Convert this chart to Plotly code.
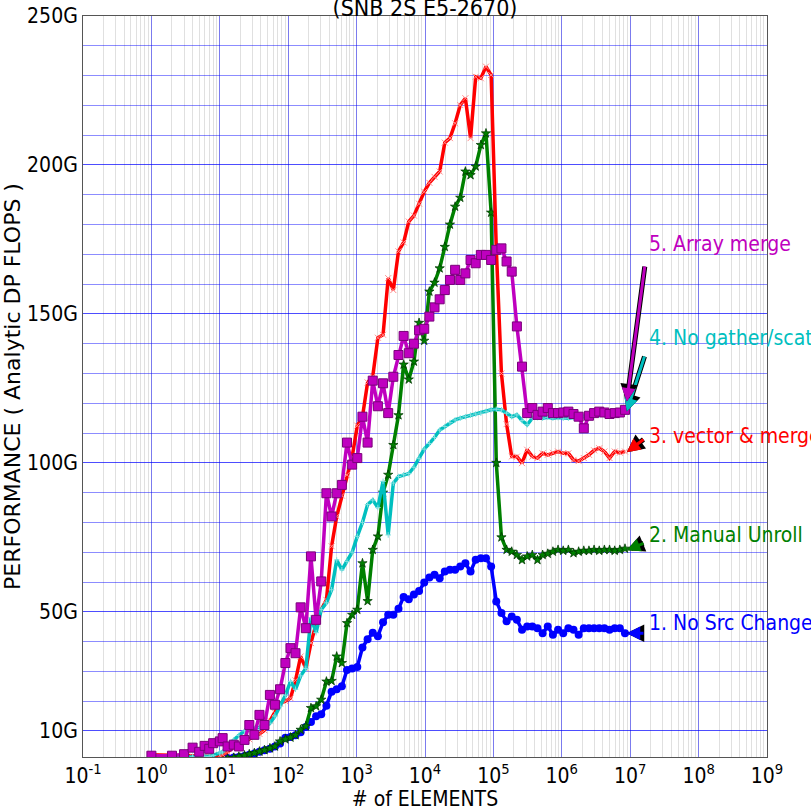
import plotly.graph_objects as go

# Problem size (# of elements), four samples per power of two
n_elements = [
    1, 2, 3, 4, 5, 6, 7, 8,
    10, 11, 13, 16, 19, 23, 27, 32,
    38, 45, 54, 64, 76, 91, 108, 128,
    152, 181, 215, 256, 304, 362, 431, 512,
    609, 724, 861, 1024, 1218, 1448, 1722, 2048,
    2436, 2896, 3444, 4096, 4871, 5793, 6889, 8192,
    9742, 11585, 13777, 16384, 19484, 23170, 27554, 32768,
    38968, 46341, 55109, 65536, 77936, 92682, 110218, 131072,
    155872, 185364, 220436, 262144, 311744, 370728, 440872, 524288,
    623487, 741455, 881744, 1048576, 1246974, 1482910, 1763488, 2097152,
    2493948, 2965821, 3526975, 4194304, 4987896, 5931642, 7053950, 8388608,
]

# Measured performance in GFLOPS for each code version
no_src_change = [
    0.3, 0.3, 0.4, 0.4, 0.5, 0.5, 0.6, 0.6,
    0.7, 0.8, 0.9, 1.1, 1.3, 1.6, 2.0, 2.4,
    3.0, 3.5, 4.0, 4.8, 5.8, 7.7, 8.0, 8.6,
    9.6, 11.3, 13.0, 14.9, 15.6, 18.5, 23.2, 24.0,
    25.0, 30.5, 31.0, 31.5, 38.0, 40.8, 43.0, 41.8,
    46.5, 49.0, 49.0, 51.0, 55.0, 54.2, 55.8, 57.0,
    59.8, 61.5, 62.4, 61.3, 63.5, 64.1, 64.1, 65.2,
    66.3, 63.5, 67.5, 68.0, 68.0, 65.2, 53.5, 49.6,
    46.8, 48.4, 47.3, 44.0, 45.1, 45.1, 44.5, 42.8,
    45.1, 42.3, 44.0, 42.8, 44.5, 44.0, 42.3, 44.5,
    44.5, 44.5, 44.5, 44.5, 44.0, 44.5, 44.5, 42.8,
]
manual_unroll = [
    0.3, 0.3, 0.3, 0.4, 0.4, 0.4, 0.5, 0.5,
    0.6, 0.7, 0.8, 1.0, 1.4, 1.8, 2.2, 2.6,
    3.1, 3.6, 4.2, 4.8, 6.5, 7.2, 7.8, 8.6,
    10.4, 11.6, 17.7, 18.3, 20.5, 26.6, 26.8, 35.0,
    32.8, 46.2, 49.0, 50.7, 66.3, 53.6, 70.8, 75.3,
    90.0, 96.0, 106.0, 116.0, 133.0, 128.0, 134.0, 147.0,
    141.0, 157.5, 160.5, 165.3, 172.5, 180.0, 186.0, 189.0,
    197.8, 196.6, 199.5, 206.7, 210.6, 184.0, 100.0, 75.0,
    70.8, 70.2, 69.1, 67.4, 68.6, 69.1, 67.4, 69.1,
    69.5, 70.2, 70.8, 70.5, 70.8, 69.7, 70.2, 70.5,
    70.5, 70.8, 70.5, 70.8, 70.8, 70.5, 70.8, 71.2,
]
vector_merge = [
    2.0, 1.8, 1.6, 1.5, 1.5, 1.6, 1.5, 1.8,
    1.7, 2.0, 3.0, 4.6, 4.8, 7.0, 7.2, 8.5,
    9.0, 10.2, 13.5, 16.0, 19.3, 20.0, 21.0, 27.0,
    35.0, 31.0, 39.5, 46.0, 50.7, 54.0, 72.0, 82.0,
    89.0, 96.0, 102.0, 112.5, 115.5, 127.0, 129.0, 142.0,
    143.0, 162.0, 158.0, 171.0, 174.0, 181.0, 183.0, 187.0,
    191.0, 194.0, 196.0, 197.8, 207.5, 209.0, 214.0, 220.1,
    222.4, 209.0, 229.6, 229.1, 233.0, 230.2, 172.0, 130.0,
    113.0, 102.1, 102.1, 99.9, 104.4, 102.1, 101.6, 103.2,
    102.7, 103.4, 103.8, 103.2, 103.2, 101.0, 100.6, 101.6,
    102.7, 104.2, 104.9, 103.8, 101.6, 103.8, 103.4, 103.8,
]
no_gather_scatter = [
    1.8, 1.5, 1.4, 1.3, 1.6, 1.5, 1.4, 1.8,
    2.6, 3.0, 4.6, 7.0, 8.5, 10.0, 10.6, 10.8,
    11.2, 11.5, 12.6, 15.0, 18.3, 22.0, 26.6, 24.0,
    28.5, 31.0, 48.0, 43.0, 50.7, 53.0, 57.4, 67.4,
    64.1, 66.9, 70.0, 75.3, 80.0, 86.0, 87.5, 85.0,
    93.8, 75.8, 93.2, 95.4, 96.0, 96.4, 98.5, 101.5,
    104.6, 106.5, 108.5, 111.0, 112.2, 113.5, 114.4, 115.0,
    115.5, 116.0, 116.4, 116.7, 117.3, 117.8, 118.0, 117.8,
    116.7, 115.5, 116.1, 114.2, 112.8, 115.0, 115.2, 115.0,
    115.3, 115.0, 115.2, 115.0, 115.0, 115.2, 115.5, 115.6,
    115.8, 116.1, 116.0, 116.1, 116.0, 116.1, 116.1, 117.0,
]
array_merge = [
    1.7, 1.7, 2.2, 4.4, 3.0, 5.0, 4.0, 5.9,
    6.5, 7.6, 4.8, 5.4, 4.8, 7.0, 12.0, 8.7,
    15.4, 12.0, 22.1, 18.8, 24.0, 32.8, 37.8, 36.1,
    51.5, 44.5, 68.6, 47.3, 60.2, 89.8, 82.0, 89.8,
    92.6, 106.8, 99.4, 101.6, 115.5, 106.8, 127.6, 119.0,
    126.7, 116.7, 128.9, 136.2, 142.6, 136.8, 140.0, 144.5,
    145.0, 149.1, 152.2, 154.9, 158.0, 161.4, 164.8, 161.4,
    163.6, 168.1, 167.0, 169.8, 169.8, 168.1, 171.5, 172.0,
    167.6, 164.2, 145.8, 132.3, 116.7, 118.4, 116.1, 117.2,
    118.4, 116.7, 116.7, 116.9, 117.2, 116.4, 115.5, 111.6,
    115.8, 116.7, 117.2, 116.9, 116.4, 116.7, 116.9, 117.8,
]

x_tick_vals = [0.1, 1, 10, 100, 1e3, 1e4, 1e5, 1e6, 1e7, 1e8, 1e9]
x_tick_text = ["10<sup>-1</sup>"] + [f"10<sup>{p}</sup>" for p in range(0, 10)]
y_tick_vals = [10, 50, 100, 150, 200, 250]
y_tick_text = ["10G", "50G", "100G", "150G", "200G", "250G"]

series_labels = [
    "1. No Src Change",
    "2. Manual Unroll",
    "3. vector & merge",
    "4. No gather/scatter",
    "5. Array merge",
]

FONT = "DejaVu Sans Condensed, DejaVu Sans, sans-serif"
FONT_WIDE = "DejaVu Sans, sans-serif"

series = [
    (no_src_change, "#0000ff",
     dict(symbol="circle", size=8, color="#0000ff", line=dict(width=0))),
    (manual_unroll, "#008000",
     dict(symbol="star", size=7, color="#008000", line=dict(width=0.7, color="#003300"))),
    (vector_merge, "#ff0000",
     dict(symbol="x-thin", size=6, line=dict(width=1, color="#ff8c8c"))),
    (no_gather_scatter, "#00bfbf",
     dict(symbol="cross-thin", size=4, line=dict(width=1, color="#7fdfdf"))),
    (array_merge, "#bf00bf",
     dict(symbol="square", size=9, color="#bf00bf", line=dict(width=1, color="#7a007a"))),
]

fig = go.Figure()
for (values, color, marker), label in zip(series, series_labels):
    fig.add_trace(go.Scatter(
        x=n_elements, y=values, name=label, mode="lines+markers",
        line=dict(color=color, width=3.5), marker=marker,
    ))

# Callout labels at the right end of each curve: (label y, arrow tail y, arrow tip y)
callouts = [
    (46.4, 42.8, 42.8),
    (75.8, 73.2, 70.7),
    (109.0, 108.2, 103.6),
    (141.8, 136.2, 117.2),
    (173.5, 166.4, 120.6),
]
tail_x, tip_x, text_x = 7.216, 6.95, 7.25
for (label_y, tail_y, tip_y), (_, color, _m), label in zip(callouts, series, series_labels):
    for width, size, col in ((5, 0.7, "#000000"), (3, 0.9, color)):
        fig.add_annotation(
            x=tip_x, y=tip_y, ax=tail_x, ay=tail_y, xref="x", yref="y",
            axref="x", ayref="y", text="", showarrow=True,
            arrowhead=2, arrowsize=size, arrowwidth=width, arrowcolor=col,
        )
    fig.add_annotation(
        x=text_x, y=label_y, xref="x", yref="y", text=label,
        showarrow=False, xanchor="left", yanchor="middle",
        font=dict(family=FONT, size=21, color=color),
    )

fig.update_layout(
    width=811, height=811,
    margin=dict(l=83, r=44, t=16, b=54),
    paper_bgcolor="white", plot_bgcolor="white",
    showlegend=False,
    font=dict(family=FONT, size=21, color="#000000"),
    title=dict(
        text="(SNB 2S E5-2670)", x=0.5, xref="paper", xanchor="center",
        y=0.9905, yref="container", yanchor="middle",
        font=dict(family=FONT, size=23, color="#000000"),
    ),
)
fig.update_xaxes(
    type="log", range=[-1, 9], automargin=False,
    tickmode="array", tickvals=x_tick_vals, ticktext=x_tick_text,
    tickfont=dict(size=21),
    showgrid=True, gridcolor="rgba(0,0,255,0.45)", gridwidth=1,
    minor=dict(dtick="D1", showgrid=True, gridcolor="rgba(0,0,0,0.12)", gridwidth=1),
    showline=True, linecolor="#555555", linewidth=1, mirror=True,
    ticks="", zeroline=False,
    title=dict(text="# of ELEMENTS", font=dict(size=21), standoff=6),
)
fig.update_yaxes(
    range=[1.26, 250], automargin=False,
    tickmode="array", tickvals=y_tick_vals, ticktext=y_tick_text,
    tickfont=dict(size=21),
    showgrid=True, gridcolor="rgba(0,0,255,0.45)", gridwidth=1,
    minor=dict(tick0=0, dtick=10, showgrid=True, gridcolor="rgba(0,0,255,0.45)", gridwidth=1),
    showline=True, linecolor="#555555", linewidth=1, mirror=True,
    ticks="", zeroline=False,
    title=dict(text="PERFORMANCE ( Analytic DP FLOPS )",
               font=dict(family=FONT_WIDE, size=22), standoff=0),
)

fig.write_html("out.html")
